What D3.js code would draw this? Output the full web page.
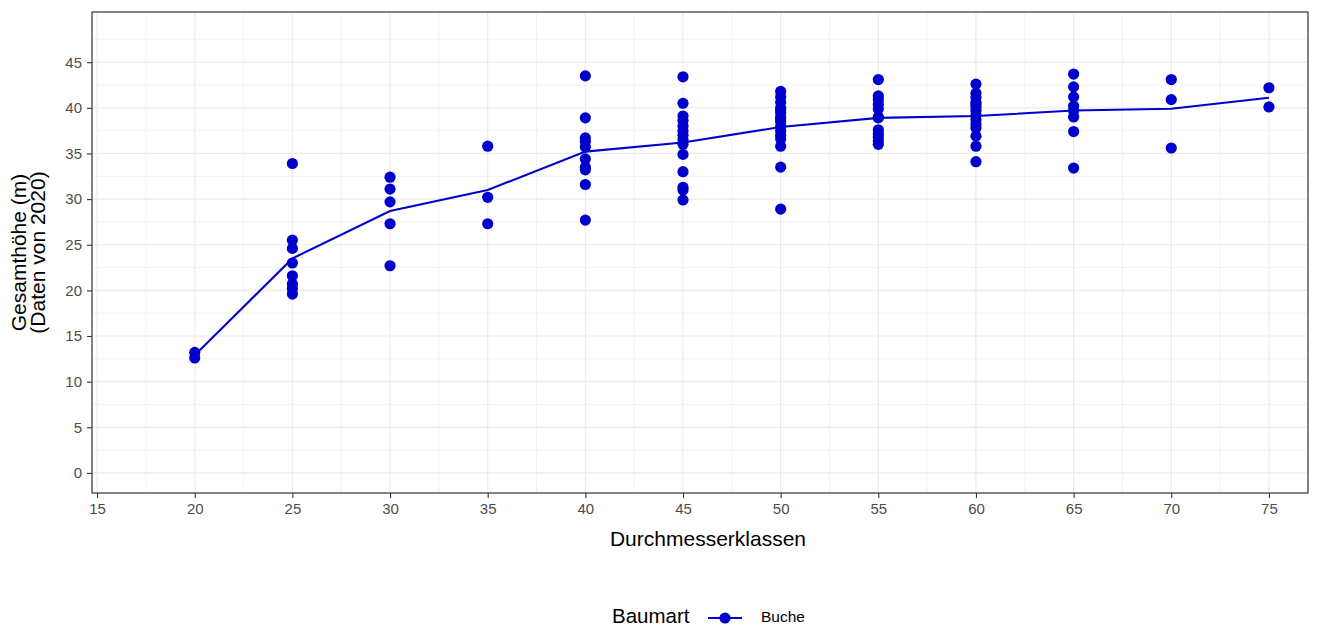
<!DOCTYPE html>
<html><head><meta charset="utf-8">
<script src="https://cdn.jsdelivr.net/npm/d3@7"></script>
<style>body{margin:0;background:#fff}svg{display:block;font-family:"Liberation Sans",Arial,sans-serif}</style>
</head><body>
<svg id="c" width="1325" height="628"></svg>
<script>
const classes = [20,25,30,35,40,45,50,55,60,65,70,75];
const heights = [
  [13.2,12.6],
  [33.9,25.5,24.6,23.0,21.6,20.7,20.2,19.6],
  [32.4,31.1,29.7,27.3,22.7],
  [35.8,30.2,27.3],
  [43.5,38.9,36.7,36.3,35.7,34.4,33.5,33.2,31.6,27.7],
  [43.4,40.5,39.1,38.6,38.0,37.5,37.0,36.5,36.0,34.9,33.0,31.3,31.0,29.9],
  [41.8,41.2,40.6,40.0,39.8,39.5,39.0,38.8,38.5,38.0,37.5,37.0,36.6,35.8,33.5,28.9],
  [43.1,41.3,40.9,40.4,39.9,39.0,38.9,37.6,37.2,36.8,36.4,36.0],
  [42.6,41.6,41.1,40.6,40.4,40.1,39.7,39.2,38.7,38.2,37.8,36.9,35.8,34.1],
  [43.7,42.3,41.2,40.2,39.7,39.0,37.4,33.4],
  [43.1,40.9,35.6],
  [42.2,40.1]
];
const meanLine = [12.9,23.5,28.7,31.0,35.2,36.2,37.9,38.9,39.1,39.7,39.9,41.1];
const xTicks = [15,20,25,30,35,40,45,50,55,60,65,70,75];
const xMinor = [17.5,22.5,27.5,32.5,37.5,42.5,47.5,52.5,57.5,62.5,67.5,72.5];
const yTicks = [0,5,10,15,20,25,30,35,40,45];
const yMinor = [2.5,7.5,12.5,17.5,22.5,27.5,32.5,37.5,42.5,47.5];
const seriesName = "Buche";
const color = "#0000CD";

const svg = d3.select("#c");
const L=92, R=1308, T=12, B=493;
const x = d3.scaleLinear().domain([14.74,77.0]).range([L,R]);
const y = d3.scaleLinear().domain([-2.2,50.5]).range([B,T]);

const g = svg.append("g");
g.append("rect").attr("x",L).attr("y",T).attr("width",R-L).attr("height",B-T).attr("fill","#fff");
g.selectAll(".xm").data(xMinor).enter().append("line")
 .attr("x1",d=>x(d)).attr("x2",d=>x(d)).attr("y1",T).attr("y2",B).attr("stroke","#EBEBEB").attr("stroke-width",0.6);
g.selectAll(".ym").data(yMinor).enter().append("line")
 .attr("y1",d=>y(d)).attr("y2",d=>y(d)).attr("x1",L).attr("x2",R).attr("stroke","#EBEBEB").attr("stroke-width",0.6);
g.selectAll(".xM").data(xTicks).enter().append("line")
 .attr("x1",d=>x(d)).attr("x2",d=>x(d)).attr("y1",T).attr("y2",B).attr("stroke","#EBEBEB").attr("stroke-width",1.2);
g.selectAll(".yM").data(yTicks).enter().append("line")
 .attr("y1",d=>y(d)).attr("y2",d=>y(d)).attr("x1",L).attr("x2",R).attr("stroke","#EBEBEB").attr("stroke-width",1.2);

const xa = svg.append("g").attr("transform",`translate(0,${B})`)
  .call(d3.axisBottom(x).tickValues(xTicks).tickSize(5).tickPadding(5));
const ya = svg.append("g").attr("transform",`translate(${L},0)`)
  .call(d3.axisLeft(y).tickValues(yTicks).tickSize(5).tickPadding(5));
[xa,ya].forEach(a=>{
  a.select(".domain").remove();
  a.selectAll(".tick line").attr("stroke","#333").attr("stroke-width",1.1);
  a.selectAll(".tick text").attr("fill","#4D4D4D").style("font-size","15px").style("font-family","Liberation Sans, Arial, sans-serif");
});

const pts = classes.map((c,i)=>[c,meanLine[i]]);
svg.append("path").datum(pts).attr("fill","none").attr("stroke",color).attr("stroke-width",2.1)
 .attr("d",d3.line().x(d=>x(d[0])).y(d=>y(d[1])));
const flat = [];
classes.forEach((c,i)=>heights[i].forEach(h=>flat.push([c,h])));
svg.selectAll(".pt").data(flat).enter().append("circle")
 .attr("cx",d=>x(d[0])).attr("cy",d=>y(d[1])).attr("r",5.6).attr("fill",color);

svg.append("rect").attr("x",L).attr("y",T).attr("width",R-L).attr("height",B-T)
 .attr("fill","none").attr("stroke","#333").attr("stroke-width",1.2);

svg.append("text").attr("x",(L+R)/2+8).attr("y",546).attr("text-anchor","middle")
 .style("font-size","21px").attr("fill","#000").text("Durchmesserklassen");
const yt = svg.append("text").attr("transform",`translate(0,${(T+B)/2}) rotate(-90)`)
 .attr("text-anchor","middle").style("font-size","21px").attr("fill","#000");
yt.append("tspan").attr("x",0).attr("y",26).text("Gesamthöhe (m)");
yt.append("tspan").attr("x",0).attr("y",45).text("(Daten von 2020)");

const lg = svg.append("g");
lg.append("text").attr("x",612).attr("y",623).style("font-size","20.5px").attr("fill","#000").text("Baumart");
lg.append("line").attr("x1",708).attr("x2",742).attr("y1",618).attr("y2",618).attr("stroke",color).attr("stroke-width",2.1);
lg.append("circle").attr("cx",725).attr("cy",618).attr("r",5.6).attr("fill",color);
lg.append("text").attr("x",761).attr("y",622).style("font-size","15.5px").attr("fill","#000").text(seriesName);
</script>
</body></html>
